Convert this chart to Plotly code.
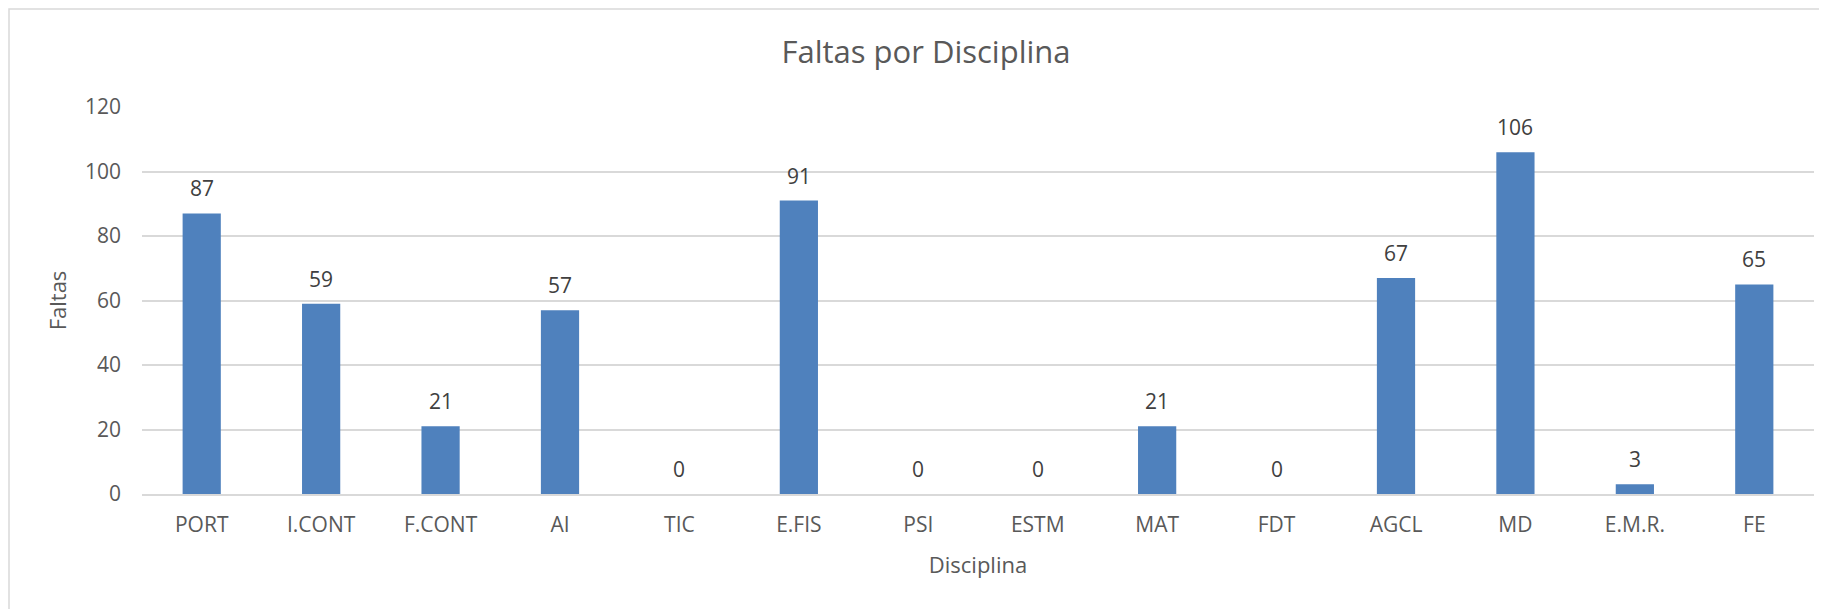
import plotly.graph_objects as go

disciplinas = ["PORT", "I.CONT", "F.CONT", "AI", "TIC", "E.FIS", "PSI",
               "ESTM", "MAT", "FDT", "AGCL", "MD", "E.M.R.", "FE"]
faltas = [87, 59, 21, 57, 0, 91, 0, 0, 21, 0, 67, 106, 3, 65]
y_ticks = [0, 20, 40, 60, 80, 100, 120]

# a página html tem 8px de margem no body, por isso a figura é 8px menor
W, H = 1819, 601
L, R, T, B = 134, 13, 99, 115
pw, ph = W - L - R, H - T - B

FONT = "Open Sans"
GREY = "#595959"
GRID = "#D9D9D9"

fig = go.Figure()
fig.add_trace(go.Bar(
    x=disciplinas, y=faltas,
    marker=dict(color="#4F81BD", line=dict(width=0)),
    hoverinfo="x+y",
))

# rótulos de dados acima das barras
for d, v in zip(disciplinas, faltas):
    fig.add_annotation(
        x=d, y=v, text=str(v), showarrow=False,
        yanchor="middle", yshift=25,
        font=dict(family=FONT, size=21, color="#404040"),
    )

# moldura do gráfico (só topo e esquerda ficam visíveis)
fig.add_shape(
    type="rect", xref="paper", yref="paper",
    x0=(1 - L) / pw, x1=(W + 20 - L) / pw,
    y0=-(H + 20 - T - ph) / ph, y1=(ph + T - 1) / ph,
    line=dict(color=GRID, width=1.5), fillcolor="rgba(0,0,0,0)", layer="below",
)

fig.update_layout(
    width=W, height=H,
    margin=dict(l=L, r=R, t=T, b=B, autoexpand=False),
    paper_bgcolor="white", plot_bgcolor="white",
    bargap=0.68,
    showlegend=False,
    font=dict(family=FONT, size=21, color=GREY),
    title=dict(
        text="Faltas por Disciplina", x=918 / W, xanchor="center",
        y=1 - 44 / H, yanchor="middle", yref="container",
        font=dict(family=FONT, size=31, color=GREY),
    ),
    xaxis=dict(
        title=dict(text="Disciplina", standoff=21,
                   font=dict(family=FONT, size=22, color=GREY)),
        showline=True, linecolor=GRID, linewidth=1.5,
        showgrid=False, ticks="", ticklabelstandoff=11,
        tickfont=dict(family=FONT, size=21, color=GREY),
    ),
    yaxis=dict(
        title=dict(text="Faltas", standoff=12,
                   font=dict(family=FONT, size=22, color=GREY)),
        range=[0, 120], tickvals=y_ticks,
        showgrid=True, gridcolor=GRID, gridwidth=1.5,
        zeroline=False, showline=False, ticks="", ticklabelstandoff=20,
        tickfont=dict(family=FONT, size=21, color=GREY),
    ),
)

fig.write_html("out.html")
